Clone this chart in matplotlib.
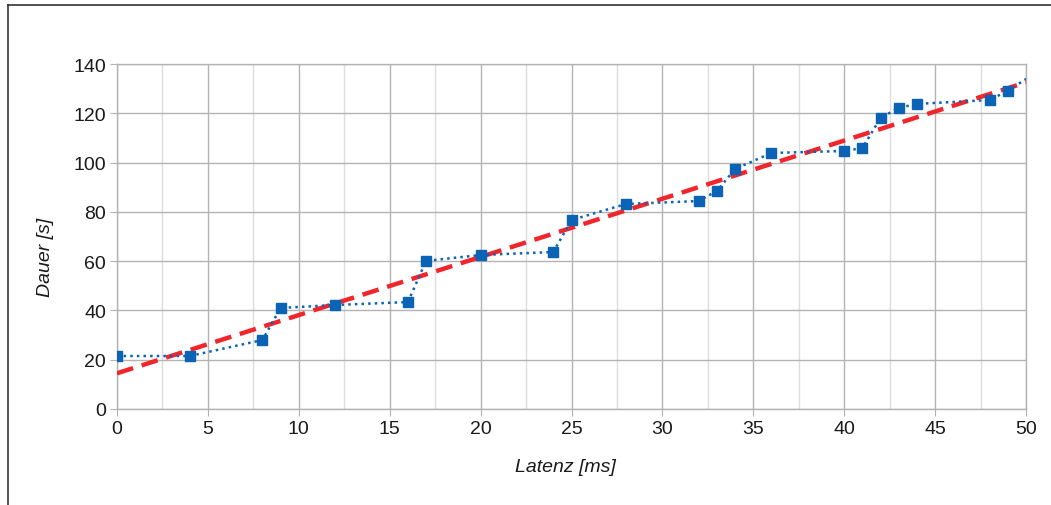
import numpy as np
import matplotlib.pyplot as plt
from matplotlib.lines import Line2D
from matplotlib.ticker import MultipleLocator

plt.rcParams["font.family"] = ["Liberation Sans", "DejaVu Sans"]

# measured latency vs. duration
latenz = [0, 4, 8, 9, 12, 16, 17, 20, 24, 25, 28, 32, 33, 34, 36, 40, 41, 42, 43, 44, 48, 49]
dauer = [21.5, 21.5, 28.0, 41.0, 42.2, 43.4, 60.1, 62.5, 63.7, 76.7, 83.2, 84.4,
         88.5, 97.4, 103.9, 104.7, 105.9, 118.1, 122.2, 123.8, 125.4, 129.1]
# last measurement lies beyond the plotted range, only its connecting line shows
latenz_tail = [49, 51]
dauer_tail = [129.1, 138.7]

x_ticks = [0, 5, 10, 15, 20, 25, 30, 35, 40, 45, 50]
y_ticks = [0, 20, 40, 60, 80, 100, 120, 140]

blue = "#0a63b5"
red = "#f0262c"

fig = plt.figure(figsize=(10.51, 5.06), dpi=100)
ax = fig.add_axes([117 / 1051, 96 / 506, 909 / 1051, 345 / 506])

# linear trend
k, d = np.polyfit(latenz, dauer, 1)
xt = np.array([0, 50])
ax.plot(xt, k * xt + d, color=red, lw=3.2, ls=(0, (3.8, 2.0)), zorder=3)

ax.plot(latenz_tail, dauer_tail, color=blue, lw=1.8, ls=":", zorder=2)
ax.plot(latenz, dauer, color=blue, lw=1.8, ls=":", marker="s", ms=7,
        mfc=blue, mec=blue, zorder=4)

ax.set_xlim(0, 50)
ax.set_ylim(0, 140)
ax.set_xticks(x_ticks)
ax.set_yticks(y_ticks)
ax.xaxis.set_minor_locator(MultipleLocator(2.5))
ax.grid(True, which="major", color="#b3b3b3", lw=1.0)
ax.grid(True, which="minor", axis="x", color="#dddddd", lw=1.0)
ax.set_axisbelow(True)
for s in ax.spines.values():
    s.set_color("#b3b3b3")
    s.set_linewidth(1.0)
ax.tick_params(which="major", length=5, color="#b3b3b3", labelsize=14,
               labelcolor="#1a1a1a", pad=3)
ax.tick_params(which="minor", length=0)

ax.set_xlabel("Latenz [ms]", fontsize=14, style="italic", color="#1a1a1a")
ax.set_ylabel("Dauer [s]", fontsize=14, style="italic", color="#1a1a1a")
ax.xaxis.set_label_coords(0.493, -0.168)
ax.yaxis.set_label_coords(-0.079, 0.443)
ax.xaxis.label.set_va("center")
ax.yaxis.label.set_va("center")

# outer frame (left and top edges)
fig.add_artist(Line2D([8 / 1051, 8 / 1051], [0, 1 - 6 / 506], color="#333333", lw=1.2))
fig.add_artist(Line2D([8 / 1051, 1], [1 - 6 / 506, 1 - 6 / 506], color="#333333", lw=1.2))

fig.savefig("out.png", dpi=100)
